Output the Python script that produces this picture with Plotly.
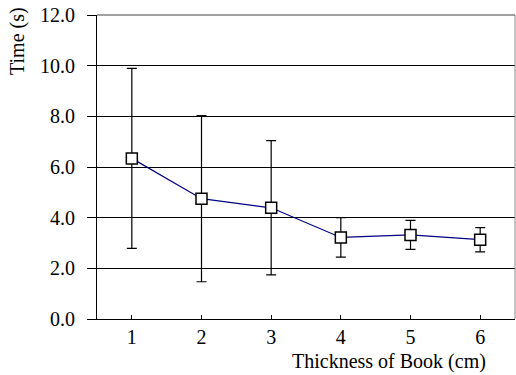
import plotly.graph_objects as go

thickness = [1, 2, 3, 4, 5, 6]
time_mean = [6.34, 4.75, 4.39, 3.22, 3.32, 3.13]
time_err = [3.55, 3.28, 2.65, 0.78, 0.57, 0.48]
y_ticks = [0, 2, 4, 6, 8, 10, 12]
y_tick_labels = ["0.0", "2.0", "4.0", "6.0", "8.0", "10.0", "12.0"]

FONT = "'Liberation Serif', 'Times New Roman', serif"
FS = 20

W, H = 516, 375
ML, MR, MT, MB = 97, 1, 15, 56
PW = W - ML - MR
PH = H - MT - MB

def px(x):  # window x -> paper
    return (x - ML) / PW

def py(y):  # window y -> paper
    return 1 - (y - MT) / PH

fig = go.Figure()
fig.add_trace(go.Scatter(
    x=thickness, y=time_mean,
    mode="lines+markers",
    line=dict(color="#000080", width=1.2),
    marker=dict(symbol="square", size=11, color="white",
                line=dict(color="black", width=1.5)),
    error_y=dict(type="data", array=time_err, visible=True,
                 color="black", thickness=1.2, width=5),
    showlegend=False,
    cliponaxis=False,
))

fig.update_layout(
    width=W, height=H,
    margin=dict(l=ML, r=MR, t=MT, b=MB, autoexpand=False),
    paper_bgcolor="white", plot_bgcolor="white",
    font=dict(family=FONT, size=FS, color="black"),
    xaxis=dict(
        range=[0.5, 6.5], tickvals=thickness,
        ticks="inside", ticklen=4, tickcolor="black", tickwidth=1,
        showline=True, linecolor="black", linewidth=1,
        showgrid=False, zeroline=False, automargin=False,
        tickfont=dict(family=FONT, size=FS),
    ),
    yaxis=dict(
        range=[0, 12], tickvals=y_ticks, ticktext=y_tick_labels,
        ticks="outside", ticklen=9, tickcolor="black", tickwidth=1,
        ticklabelstandoff=8, ticklabeloverflow="allow",
        showline=True, linecolor="black", linewidth=1,
        showgrid=True, gridcolor="black", gridwidth=1,
        zeroline=False, automargin=False,
        tickfont=dict(family=FONT, size=FS),
    ),
    shapes=[
        dict(type="line", xref="paper", yref="paper", x0=1, x1=1, y0=0, y1=1,
             line=dict(color="#888888", width=1)),
        dict(type="line", xref="paper", yref="paper", x0=0, x1=1, y0=1, y1=1,
             line=dict(color="#444444", width=1)),
    ],
    annotations=[
        dict(text="Time (s)", xref="paper", yref="paper",
             x=px(18), y=py(5), xanchor="center", yanchor="top",
             textangle=-90, showarrow=False,
             font=dict(family=FONT, size=FS)),
        dict(text="Thickness of Book (cm)", xref="paper", yref="paper",
             x=px(488), y=py(361), xanchor="right", yanchor="middle",
             showarrow=False, font=dict(family=FONT, size=FS)),
    ],
)

fig.write_html("out.html", config={"displayModeBar": False},
               post_script="document.body.style.margin='0';")
